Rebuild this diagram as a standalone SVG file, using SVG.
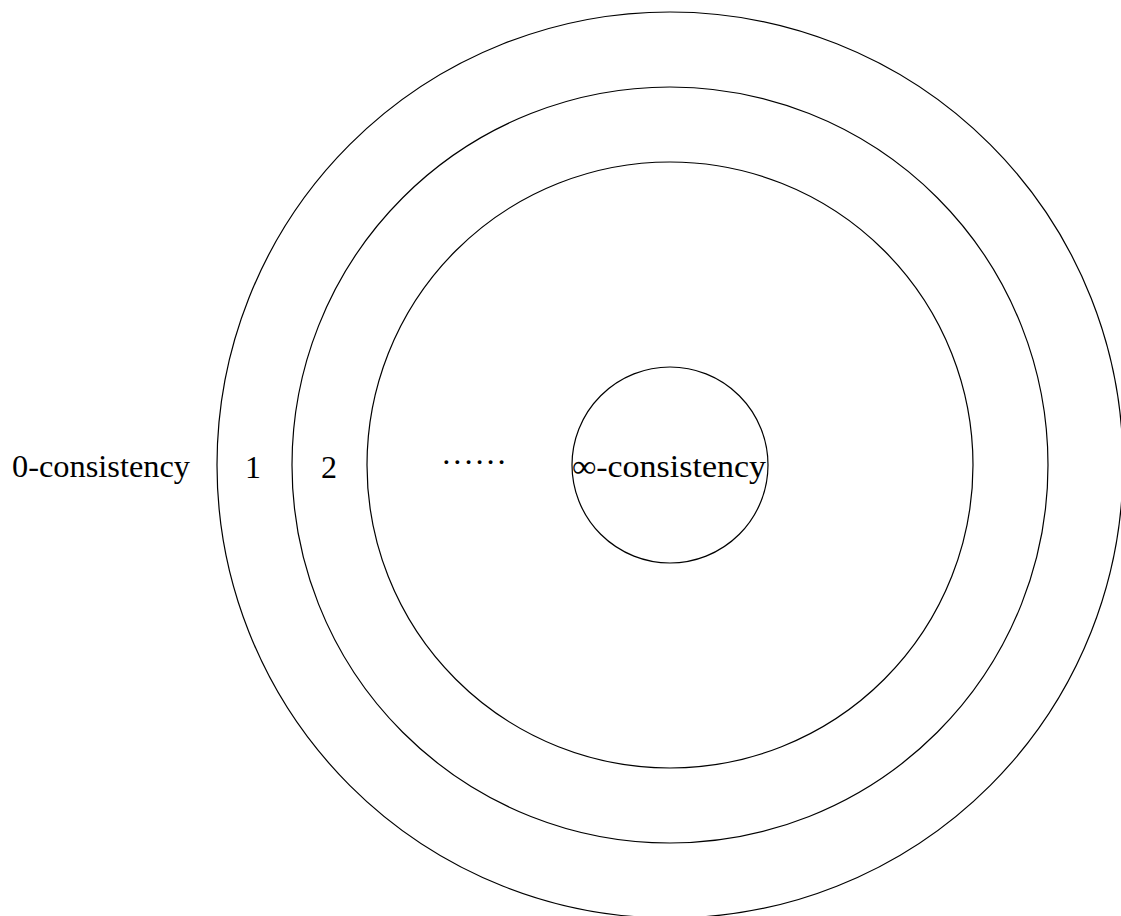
<svg xmlns="http://www.w3.org/2000/svg" width="1121" height="916" viewBox="0 0 1121 916">
<style>
.ring{fill:none;stroke:#000;stroke-width:1.2}
.lbl{font-family:'Liberation Serif','Times New Roman',serif;font-size:32px;fill:#000}
</style>
<rect width="1121" height="916" fill="#fff"/>
<g id="ring0"><circle class="ring" cx="670" cy="465" r="453"/></g>
<g id="ring1"><circle class="ring" cx="670" cy="465" r="378"/></g>
<g id="ring2"><circle class="ring" cx="670" cy="465" r="303"/></g>
<g id="ringInf"><circle class="ring" cx="670" cy="465" r="98"/></g>
<g id="labels">
<text class="lbl" x="12" y="477" textLength="178" lengthAdjust="spacingAndGlyphs">0-consistency</text>
<text class="lbl" x="253" y="478" text-anchor="middle">1</text>
<text class="lbl" x="329" y="478" text-anchor="middle">2</text>
<text class="lbl" x="441" y="473" textLength="66" lengthAdjust="spacing">······</text>
<text class="lbl" x="572" y="477" textLength="194" lengthAdjust="spacingAndGlyphs">∞-consistency</text>
</g>
</svg>
